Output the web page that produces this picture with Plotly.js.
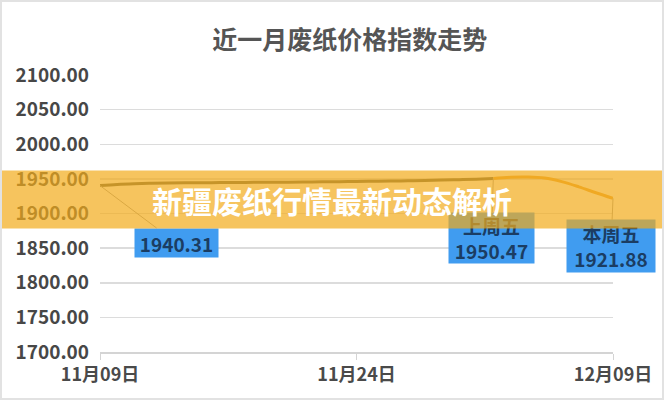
<!DOCTYPE html>
<html>
<head>
<meta charset="utf-8">
<script src="https://cdn.plot.ly/plotly-3.0.1.min.js"></script>
<style>
  body { margin: 0; background: #fff; }
  #wrap { position: relative; width: 664px; height: 400px; }
  #frame { position: absolute; left: 0; top: 0; width: 660px; height: 396px;
           border: 2px solid #e2e2e2; pointer-events: none; }
</style>
</head>
<body>
<div id="wrap">
  <div id="chart" style="width:664px;height:400px;"></div>
  <div id="frame"></div>
</div>
<script>
// Daily waste paper price index, 2022-11-09 .. 2022-12-09
var days = [
    "2022-11-09", "2022-11-10", "2022-11-11", "2022-11-12", "2022-11-13",
    "2022-11-14", "2022-11-15", "2022-11-16", "2022-11-17", "2022-11-18",
    "2022-11-19", "2022-11-20", "2022-11-21", "2022-11-22", "2022-11-23",
    "2022-11-24", "2022-11-25", "2022-11-26", "2022-11-27", "2022-11-28",
    "2022-11-29", "2022-11-30", "2022-12-01", "2022-12-02", "2022-12-03",
    "2022-12-04", "2022-12-05", "2022-12-06", "2022-12-07", "2022-12-08",
    "2022-12-09"
];
var priceIndex = [
    1940.31, 1942.0, 1943.0, 1943.6, 1944.0,
    1944.3, 1944.5, 1944.6, 1944.8, 1945.0,
    1945.2, 1945.3, 1945.5, 1945.7, 1946.0,
    1946.2, 1946.5, 1946.8, 1947.2, 1947.6,
    1948.2, 1948.9, 1949.6, 1950.47, 1952.3,
    1952.6, 1951.2, 1946.0, 1938.5, 1930.0,
    1921.88
];

var tickDays = ["2022-11-09", "2022-11-24", "2022-12-09"];
var tickLabels = ["11月09日", "11月24日", "12月09日"];
var yTicks = [1700, 1750, 1800, 1850, 1900, 1950, 2000, 2050, 2100];

// labelled points
var markDays = ["2022-11-09", "2022-12-02", "2022-12-09"];
var markTexts = ["1940.31", "上周五<br>1950.47", "本周五<br>1921.88"];

var chartTitle = "近一月废纸价格指数走势";
var bannerText = "新疆废纸行情最新动态解析";

// split the line at last Friday
var cut = days.indexOf("2022-12-02");

var trace1 = {
    type: "scatter",
    mode: "lines",
    x: days.slice(0, cut + 1),
    y: priceIndex.slice(0, cut + 1),
    line: {color: "#5f5f4e", width: 3, shape: "spline"},
    hoverinfo: "skip"
};

var trace2 = {
    type: "scatter",
    mode: "lines",
    x: days.slice(cut),
    y: priceIndex.slice(cut),
    line: {color: "#eaa53a", width: 3, shape: "spline"},
    hoverinfo: "skip"
};

var boxSizes = [[83, 28, 76, 57], [85, 50, -2, 59], [88, 52, -2, 48]];

var annots = markDays.map(function(d, i) {
    var s = boxSizes[i];
    return {
        x: d,
        y: priceIndex[days.indexOf(d)],
        xref: "x", yref: "y",
        text: markTexts[i],
        showarrow: true,
        arrowhead: 0,
        arrowwidth: 1,
        arrowcolor: "#a0a0a0",
        ax: s[2], ay: s[3],
        width: s[0], height: s[1],
        bgcolor: "#409cf0",
        borderpad: 0,
        font: {family: "Noto Sans CJK SC", size: 19, color: "#1b3d63", weight: "bold"}
    };
});

// the banner goes last so it sits above the boxes
annots.push({
    xref: "paper", yref: "paper",
    x: 0.4522, y: 0.5505,
    xanchor: "center", yanchor: "middle",
    text: bannerText,
    showarrow: false,
    width: 680, height: 57,
    bgcolor: "rgba(242,171,26,0.7)",
    borderpad: 0,
    font: {family: "Noto Sans CJK SC", size: 30, color: "#ffffff", weight: "bold"}
});

var layout = {
    width: 664,
    height: 400,
    margin: {l: 100, r: 51, t: 75, b: 48},
    paper_bgcolor: "#ffffff",
    plot_bgcolor: "#ffffff",
    showlegend: false,
    title: {
        text: chartTitle,
        x: 0.487, xref: "paper", xanchor: "center",
        y: 0.9, yref: "container", yanchor: "middle",
        font: {family: "Noto Sans CJK SC", size: 25, color: "#555555", weight: "bold"}
    },
    xaxis: {
        type: "date",
        range: [days[0], days[days.length - 1]],
        tickmode: "array",
        tickvals: tickDays,
        ticktext: tickLabels,
        showgrid: false,
        zeroline: false,
        showline: true,
        linecolor: "#d4d4d4",
        linewidth: 1.5,
        ticks: "outside",
        ticklen: 6,
        tickcolor: "#d4d4d4",
        tickfont: {family: "Noto Sans CJK SC", size: 18, color: "#4a4a4a", weight: "bold"}
    },
    yaxis: {
        range: [1700, 2100],
        tickmode: "array",
        tickvals: yTicks,
        tickformat: ".2f",
        showgrid: true,
        gridcolor: "#dcdcdc",
        gridwidth: 1.5,
        zeroline: false,
        showline: false,
        ticks: "",
        ticklabelstandoff: 10,
        tickfont: {family: "Noto Sans CJK SC", size: 19, color: "#474747", weight: "bold"}
    },
    annotations: annots
};

Plotly.newPlot("chart", [trace1, trace2], layout, {displayModeBar: false, staticPlot: true});
</script>
</body>
</html>
